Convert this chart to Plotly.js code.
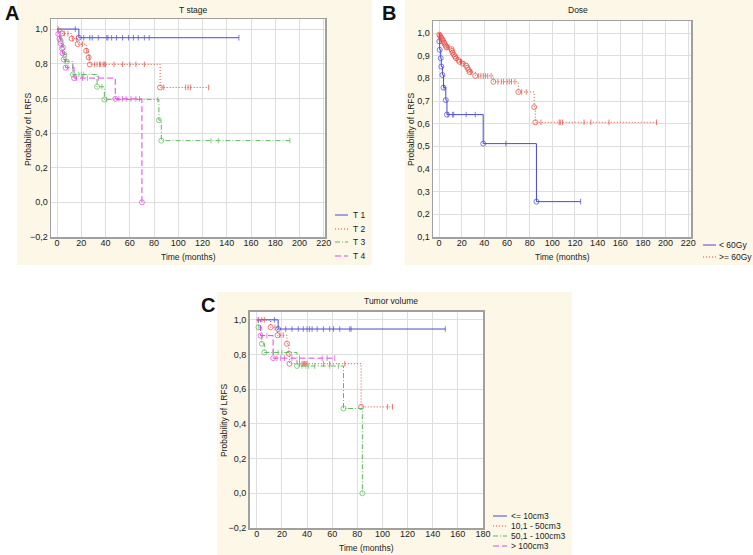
<!DOCTYPE html>
<html>
<head>
<meta charset="utf-8">
<script src="https://cdn.plot.ly/plotly-3.0.1.min.js"></script>
<style>body{margin:0;background:#fff}#graph{width:753px;height:555px}</style>
</head>
<body>
<div id="graph"></div>
<script>
// panel A - T stage (event times, survival after event, censored times)
const t1Time = [18];
const t1Surv = [0.95];
const t1Cens = [15, 22, 27, 29, 34, 41, 42, 45, 49, 54, 59, 63, 67, 72, 76, 150];

const t2Time = [4, 12, 17, 24, 26, 27, 85];
const t2Surv = [0.974, 0.945, 0.913, 0.875, 0.836, 0.796, 0.663];
const t2Cens = [1, 6, 9, 13, 16, 21, 24.5, 26.5, 31, 33, 35, 36, 38, 39, 40, 47, 54, 60, 65, 72, 88, 106, 108, 110, 125];

const t3Time = [3, 5, 6, 8, 13, 33, 39, 84, 86];
const t3Surv = [0.932, 0.893, 0.853, 0.813, 0.738, 0.667, 0.593, 0.474, 0.356];
const t3Cens = [18, 20, 22, 37, 41, 83, 127, 133, 192];

const t4Time = [1, 2, 3, 4, 4.5, 5.5, 7, 14, 48, 70];
const t4Surv = [0.972, 0.944, 0.916, 0.888, 0.86, 0.824, 0.777, 0.717, 0.597, 0];
const t4Cens = [9, 13, 16, 21, 25, 34, 51, 54, 57, 61, 65, 68];

// panel B - Dose
const lowTime = [0.3, 0.6, 1.5, 2, 3, 4, 6, 7, 39, 86];
const lowSurv = [0.963, 0.926, 0.889, 0.852, 0.815, 0.759, 0.704, 0.64, 0.512, 0.256];
const lowCens = [4.5, 8, 12, 13, 24, 32, 59, 125];

const highTime = [0.3, 1, 2, 3, 3.5, 4.5, 5, 6, 6.5, 11, 11.5, 12, 13, 14, 15, 17, 18, 21, 24, 25, 26, 27, 32, 48, 70, 84, 85];
const highSurv = [0.993, 0.986, 0.979, 0.972, 0.965, 0.958, 0.951, 0.944, 0.937, 0.929, 0.921, 0.913, 0.905, 0.897, 0.889, 0.881, 0.873, 0.865, 0.856, 0.847, 0.838, 0.828, 0.811, 0.785, 0.74, 0.673, 0.606];
const highCens = [1.5, 7, 8, 9, 16, 19, 20, 22, 28, 29, 35, 37, 39, 41, 43, 46, 52, 55, 57, 60, 62, 64, 67, 73, 77, 90, 106, 107, 109, 128, 134, 150, 192];

// panel C - Tumor volume
const v1Time = [17];
const v1Surv = [0.947];
const v1Cens = [14, 23, 28, 33, 37, 40, 42, 44, 48, 53, 58, 61, 66, 74, 75, 150];

const v2Time = [11, 16.5, 24, 25.5, 26, 83];
const v2Surv = [0.957, 0.911, 0.862, 0.805, 0.747, 0.498];
const v2Cens = [1, 4, 6, 14.5, 18.5, 21, 34, 36, 37, 38, 39, 40, 53, 58, 70, 104, 108];

const v3Time = [1.3, 4, 6, 32, 69, 84];
const v3Surv = [0.957, 0.862, 0.812, 0.734, 0.489, 0];
const v3Cens = [1.6, 13, 17, 20, 36, 39, 41, 46, 58, 65];

const v4Time = [3, 13];
const v4Surv = [0.909, 0.779];
const v4Cens = [1.5, 8, 16, 19, 22, 28, 34, 52, 56, 62];

const namesA = ['T 1', 'T 2', 'T 3', 'T 4'];
const namesB = ['< 60Gy', '>= 60Gy'];
const namesC = ['<= 10cm3', '10,1 - 50cm3', '50,1 - 100cm3', '> 100cm3'];

const BLUE = '#4848d4', RED = '#e4493f', GREEN = '#5cba5c', MAG = '#de48de';
const SOLID = 'solid', DOT = '1px,2px', DASHDOT = '5px,2px,1px,2px', DASH = '6px,3px';
const FONT = 'Liberation Sans, Arial, sans-serif';
const FS = 9;     // tick labels
const TS = 8.5;   // titles and legend text

function px(x){ return x/753; }
function py(y){ return 1 - y/555; }

// build one Kaplan-Meier step trace
function km(time, surv, cens, xa, ya, color, dash){
    let pts = [];
    time.forEach((t,i)=>pts.push({t:t, s:surv[i], ev:true}));
    cens.forEach(t=>pts.push({t:t, ev:false}));
    pts.sort((a,b)=>a.t-b.t || (a.ev?-1:1));

    let x = [0], y = [1], sym = ['circle'], size = [0];
    let cur = 1;
    pts.forEach(p=>{
        if(p.ev){ cur = p.s; }
        x.push(p.t);
        y.push(cur);
        sym.push(p.ev ? 'circle-open' : 'line-ns-open');
        size.push(p.ev ? 5 : 4);
    });

    return {
        x:x, y:y, xaxis:xa, yaxis:ya,
        mode:'lines+markers',
        line:{shape:'hv', color:color, width:1, dash:dash},
        marker:{symbol:sym, size:size, color:color, line:{color:color, width:1}},
        hoverinfo:'x+y'
    };
}

const traces = [
    km(t1Time, t1Surv, t1Cens, 'x', 'y', BLUE, SOLID),
    km(t2Time, t2Surv, t2Cens, 'x', 'y', RED, DOT),
    km(t3Time, t3Surv, t3Cens, 'x', 'y', GREEN, DASHDOT),
    km(t4Time, t4Surv, t4Cens, 'x', 'y', MAG, DASH),

    km(lowTime, lowSurv, lowCens, 'x2', 'y2', BLUE, SOLID),
    km(highTime, highSurv, highCens, 'x2', 'y2', RED, DOT),

    km(v1Time, v1Surv, v1Cens, 'x3', 'y3', BLUE, SOLID),
    km(v2Time, v2Surv, v2Cens, 'x3', 'y3', RED, DOT),
    km(v3Time, v3Surv, v3Cens, 'x3', 'y3', GREEN, DASHDOT),
    km(v4Time, v4Surv, v4Cens, 'x3', 'y3', MAG, DASH)
];

function xAxis(dom, rng, anchor){
    return {
        domain:dom, range:rng, anchor:anchor,
        dtick:20, tick0:0, tickformat:'d',
        showgrid:true, gridcolor:'#dedede', gridwidth:1,
        zeroline:false,
        showline:true, mirror:true, linecolor:'#a0a0a0', linewidth:1.5,
        ticks:'', ticklabelstandoff:-3,
        tickfont:{family:FONT, size:FS, color:'#222'}
    };
}

function yAxis(dom, rng, anchor, step){
    return {
        domain:dom, range:rng, anchor:anchor,
        dtick:step, tick0:0, tickformat:'.1f',
        showgrid:true, gridcolor:'#dedede', gridwidth:1,
        zeroline:false,
        showline:true, mirror:true, linecolor:'#a0a0a0', linewidth:1.5,
        ticks:'', ticklabelstandoff:0,
        tickfont:{family:FONT, size:FS, color:'#222'}
    };
}

let shapes = [
    // cream panel backgrounds
    {type:'rect', xref:'paper', yref:'paper', x0:px(17), x1:px(372), y0:py(265), y1:py(0), fillcolor:'#fcf7e7', line:{width:0}, layer:'below'},
    {type:'rect', xref:'paper', yref:'paper', x0:px(405), x1:px(753), y0:py(265), y1:py(0), fillcolor:'#fcf7e7', line:{width:0}, layer:'below'},
    {type:'rect', xref:'paper', yref:'paper', x0:px(217), x1:px(572), y0:py(555), y1:py(292), fillcolor:'#fcf7e7', line:{width:0}, layer:'below'},
    // white plot areas
    {type:'rect', xref:'x domain', yref:'y domain', x0:0, x1:1, y0:0, y1:1, fillcolor:'#fff', line:{width:0}, layer:'below'},
    {type:'rect', xref:'x2 domain', yref:'y2 domain', x0:0, x1:1, y0:0, y1:1, fillcolor:'#fff', line:{width:0}, layer:'below'},
    {type:'rect', xref:'x3 domain', yref:'y3 domain', x0:0, x1:1, y0:0, y1:1, fillcolor:'#fff', line:{width:0}, layer:'below'}
];

let annotations = [
    {text:'A', x:px(3), y:py(13)},
    {text:'B', x:px(380), y:py(13)},
    {text:'C', x:px(199), y:py(305)}
].map(a=>Object.assign(a, {xref:'paper', yref:'paper', xanchor:'left', yanchor:'middle', showarrow:false,
    font:{family:FONT, size:20, weight:'bold', color:'#111'}}));

function label(text, x, y, angle, anchor){
    annotations.push({text:text, xref:'paper', yref:'paper', x:px(x), y:py(y), textangle:angle || 0,
        xanchor:anchor || 'center', yanchor:'middle', showarrow:false, borderpad:0,
        font:{family:FONT, size:TS, color:'#222'}});
}

// panel titles and axis titles
label('T stage', 193, 10);
label('Dose', 578, 10);
label('Tumor volume', 391, 301);
label('Time (months)', 188, 257);
label('Time (months)', 562, 257);
label('Time (months)', 366, 548);
label('Probability of LRFS', 28, 129, -90);
label('Probability of LRFS', 411, 129, -90);
label('Probability of LRFS', 224, 420, -90);

// hand-made legends (tight spacing like the original)
function legend(names, colors, dashes, lx0, lx1, tx, ys){
    names.forEach((n,i)=>{
        shapes.push({type:'line', xref:'paper', yref:'paper', x0:px(lx0), x1:px(lx1), y0:py(ys[i]), y1:py(ys[i]),
            line:{color:colors[i], width:1, dash:dashes[i]}});
        label(n, tx, ys[i], 0, 'left');
    });
}
legend(namesA, [BLUE, RED, GREEN, MAG], [SOLID, DOT, DASHDOT, DASH], 335, 348, 352, [215, 229, 242, 256]);
legend(namesB, [BLUE, RED], [SOLID, DOT], 703, 716, 718, [245, 257]);
legend(namesC, [BLUE, RED, GREEN, MAG], [SOLID, DOT, DASHDOT, DASH], 493, 507, 510, [516, 526, 536, 546]);

const layout = {
    width:753, height:555,
    margin:{l:0, r:0, t:0, b:0},
    paper_bgcolor:'#fff', plot_bgcolor:'#fff',
    separators:', ',
    showlegend:false,
    font:{family:FONT, size:FS, color:'#222'},
    xaxis:xAxis([px(51), px(325)], [-5, 221], 'y'),
    yaxis:yAxis([py(237), py(19)], [-0.2, 1.058], 'x', 0.2),
    xaxis2:xAxis([px(433), px(691)], [-5.3, 222.4], 'y2'),
    yaxis2:yAxis([py(237), py(21)], [0.1, 1.053], 'x2', 0.1),
    xaxis3:xAxis([px(249.5), px(483)], [-5.8, 180], 'y3'),
    yaxis3:yAxis([py(528), py(311.5)], [-0.2, 1.048], 'x3', 0.2),
    shapes:shapes,
    annotations:annotations
};

Plotly.newPlot('graph', traces, layout, {displayModeBar:false, staticPlot:true});
</script>
</body>
</html>
